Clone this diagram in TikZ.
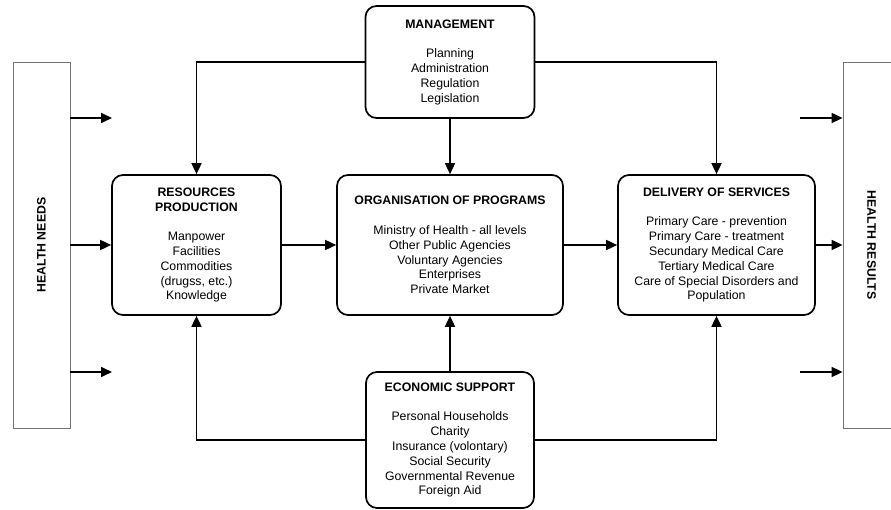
\documentclass[tikz,border=0pt]{standalone}
\usepackage{fontspec}
\setmainfont{Liberation Sans}
\usetikzlibrary{arrows.meta}

\tikzset{
    block/.style={draw, line width=1.7pt, rounded corners=11pt, align=center,
        inner sep=0pt, font=\fontsize{12.3}{14.8}\selectfont},
    bar/.style={draw=black!55, line width=0.8pt, minimum width=57pt, minimum height=366pt,
        inner sep=0pt, font=\fontsize{12.3}{14.8}\selectfont\bfseries},
    arr/.style={line width=1.7pt, -{Triangle[length=11pt,width=10pt]}},
}

\begin{document}
\begin{tikzpicture}[x=1pt, y=-1pt]
    \useasboundingbox (0, 0) rectangle (891, 510);

    % side bars
    \node[bar] (needs) at (41.5, 245) {\rotatebox{90}{HEALTH NEEDS}};
    \node[bar] (results) at (871.5, 245) {\rotatebox{-90}{HEALTH RESULTS}};

    % main blocks
    \node[block, minimum width=169pt, minimum height=112pt] (mgmt) at (450, 62)
        {\textbf{MANAGEMENT}\\[14.8pt]Planning\\Administration\\Regulation\\Legislation};
    \node[block, minimum width=169pt, minimum height=140pt] (res) at (196.5, 245)
        {\textbf{RESOURCES}\\\textbf{PRODUCTION}\\[14.8pt]Manpower\\Facilities\\Commodities\\(drugss, etc.)\\Knowledge};
    \node[block, minimum width=226pt, minimum height=140pt] (org) at (450, 245)
        {\textbf{ORGANISATION OF PROGRAMS}\\[14.8pt]Ministry of Health - all levels\\Other Public Agencies\\Voluntary Agencies\\Enterprises\\Private Market};
    \node[block, minimum width=197pt, minimum height=140pt] (del) at (716.5, 245)
        {\textbf{DELIVERY OF SERVICES}\\[14.8pt]Primary Care - prevention\\Primary Care - treatment\\Secundary Medical Care\\Tertiary Medical Care\\Care of Special Disorders and\\Population};
    \node[block, minimum width=168pt, minimum height=136pt] (econ) at (450, 440)
        {\textbf{ECONOMIC SUPPORT}\\[14.8pt]Personal Households\\Charity\\Insurance (volontary)\\Social Security\\Governmental Revenue\\Foreign Aid};

    % free arrow ends
    \coordinate (in1) at (112, 118);
    \coordinate (in2) at (112, 372);
    \coordinate (out1) at (800, 118);
    \coordinate (out2) at (800, 372);

    % needs and results
    \draw[arr] (needs.east |- in1) -- (in1);
    \draw[arr] (needs.east) -- (res.west);
    \draw[arr] (needs.east |- in2) -- (in2);
    \draw[arr] (out1) -- (results.west |- out1);
    \draw[arr] (del.east) -- (results.west);
    \draw[arr] (out2) -- (results.west |- out2);

    % main flow
    \draw[arr] (res.east) -- (org.west);
    \draw[arr] (org.east) -- (del.west);

    % management
    \draw[arr] (mgmt.west) -| (res.north);
    \draw[arr] (mgmt.south) -- (org.north);
    \draw[arr] (mgmt.east) -| (del.north);

    % economic support
    \draw[arr] (econ.west) -| (res.south);
    \draw[arr] (econ.north) -- (org.south);
    \draw[arr] (econ.east) -| (del.south);
\end{tikzpicture}
\end{document}
